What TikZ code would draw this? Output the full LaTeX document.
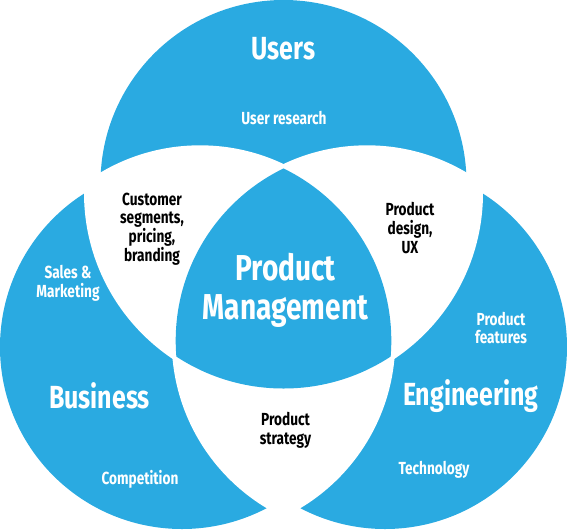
\documentclass[tikz,border=0pt]{standalone}
\usepackage{fontspec}
\newfontfamily\condf{Fira Sans}[FakeStretch=0.78]
\definecolor{vblue}{RGB}{42,170,225}
\tikzset{
  bigw/.style={text=white, inner sep=0pt, font=\condf\bfseries\fontsize{32}{34}\selectfont},
  pmw/.style={text=white, inner sep=0pt, align=center, font=\condf\bfseries\fontsize{36}{39}\selectfont},
  smallw/.style={text=white, inner sep=0pt, align=center, font=\condf\bfseries\fontsize{17.5}{18.7}\selectfont},
  smallk/.style={text=black, inner sep=0pt, align=center, font=\condf\bfseries\fontsize{17.5}{18.7}\selectfont}
}
\begin{document}
\begin{tikzpicture}[x=1pt,y=-1pt]
\useasboundingbox (0,0) rectangle (567,531);
\clip (0,0) rectangle (567,531);
% outer circles
\fill[vblue] (283.5,183) circle[radius=183pt];
\fill[vblue] (182,347) circle[radius=182pt];
\fill[vblue] (385,347) circle[radius=182pt];
% white pairwise regions
\begin{scope}
  \clip (283.5,193) circle[radius=199.5pt];
  \fill[white] (200,340.6) circle[radius=195.3pt];
  \fill[white] (367,340.6) circle[radius=195.3pt];
\end{scope}
\begin{scope}
  \clip (200,340.6) circle[radius=195.3pt];
  \fill[white] (367,340.6) circle[radius=195.3pt];
\end{scope}
% centre region
\begin{scope}
  \clip (283.5,193) circle[radius=195.5pt];
  \clip (200,340.6) circle[radius=191.3pt];
  \fill[vblue] (367,340.6) circle[radius=191.3pt];
\end{scope}
% labels
\node[bigw, anchor=base] (users) at (283.5,59) {Users};
\node[smallw, anchor=base] (userres) at (284,124) {User research};
\node[smallk] (cust) at (152,229) {Customer\\segments,\\pricing,\\branding};
\node[smallk] (design) at (410,228) {Product\\design,\\UX};
\node[pmw] (pm) at (285.5,290) {Product\\Management};
\node[smallw] (sales) at (68,283.5) {Sales \&\\Marketing};
\node[bigw, anchor=base] (business) at (99.5,408) {Business};
\node[smallw, anchor=base] (comp) at (140,484) {Competition};
\node[smallk] (strategy) at (285.5,430) {Product\\strategy};
\node[bigw, anchor=base] (eng) at (470.7,405) {Engineering};
\node[smallw] (features) at (501,328) {Product\\features};
\node[smallw, anchor=base] (tech) at (434,474) {Technology};
\end{tikzpicture}
\end{document}
